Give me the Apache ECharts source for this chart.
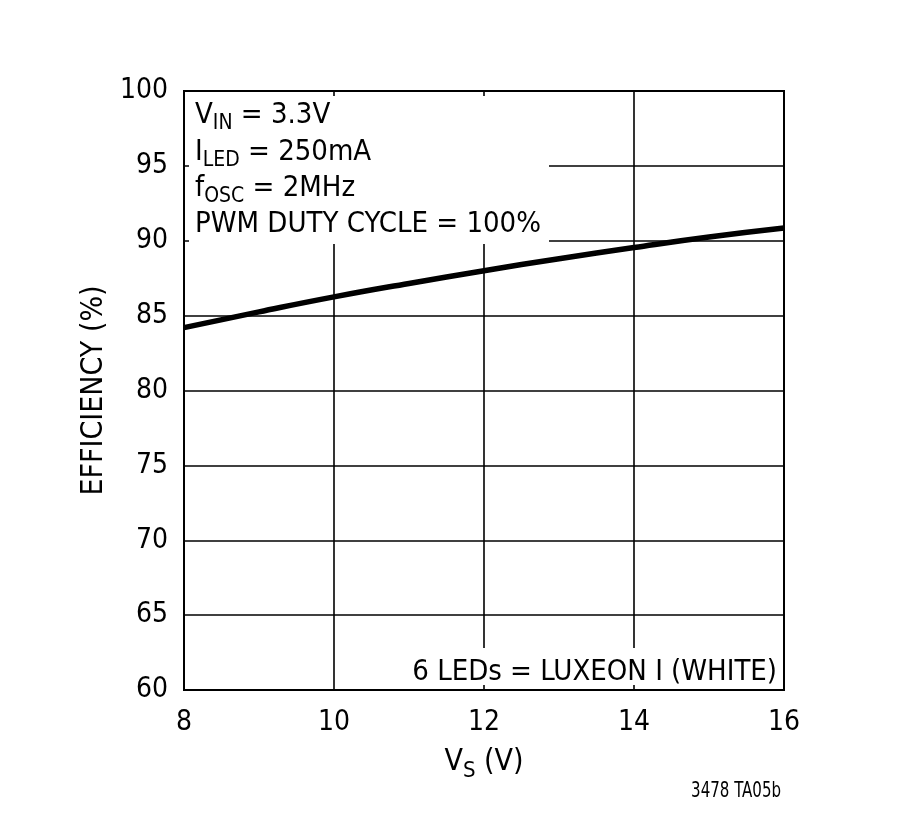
<!DOCTYPE html>
<html>
<head>
<meta charset="utf-8">
<script src="https://cdn.jsdelivr.net/npm/echarts@6/dist/echarts.min.js"></script>
<style>
html,body{margin:0;padding:0;background:#fff;}
#c{width:900px;height:831px;}
</style>
</head>
<body>
<div id="c"></div>
<script>
var vs = [8, 9, 10, 11, 12, 13, 14, 15, 16];
var efficiency = [84.2, 85.25, 86.25, 87.15, 88.0, 88.8, 89.55, 90.25, 90.85];
var xTicks = [8, 10, 12, 14, 16];
var yTicks = [60, 65, 70, 75, 80, 85, 90, 95, 100];
var notes = ['{m|V}{s|IN}{m| = 3.3V}', '{m|I}{s|LED}{m| = 250mA}', '{m|f}{s|OSC}{m| = 2MHz}', '{m|PWM DUTY CYCLE = 100%}'];
var ledNote = '6 LEDs = LUXEON I (WHITE)';
var footer = '3478 TA05b';

var FONT = '"DejaVu Sans Condensed", "Liberation Sans", sans-serif';
var rich = {
  m: {fontFamily: FONT, fontSize: 29, lineHeight: 36, color: '#000'},
  s: {fontFamily: FONT, fontSize: 21, lineHeight: 36, color: '#000', padding: [18, 0, 0, 0]}
};
var richX = {
  m: {fontFamily: FONT, fontSize: 30, lineHeight: 36, color: '#000'},
  s: {fontFamily: FONT, fontSize: 22, lineHeight: 36, color: '#000', padding: [18, 0, 0, 0]}
};
var noteTops = [97, 134, 170, 206.5];

var chart = echarts.init(document.getElementById('c'), null, {renderer: 'canvas'});
var graphics = [
  {type: 'rect', z: 1, shape: {x: 189, y: 96, width: 360, height: 148}, style: {fill: '#fff'}},
  {type: 'rect', z: 1, shape: {x: 410, y: 648, width: 370, height: 37}, style: {fill: '#fff'}}
];
notes.forEach(function (t, i) {
  graphics.push({type: 'text', z: 3, x: 195, y: noteTops[i],
    style: {text: t, rich: rich, verticalAlign: 'top', align: 'left'}});
});
graphics.push({type: 'text', z: 3, x: 777, y: 672,
  style: {text: ledNote, fontFamily: FONT, fontSize: 29, fill: '#000', align: 'right', verticalAlign: 'middle'}});
graphics.push({type: 'text', z: 3, x: 781, y: 791, scaleX: 0.76,
  style: {text: footer, fontFamily: FONT, fontSize: 22, fill: '#000', align: 'right', verticalAlign: 'middle'}});

chart.setOption({
  animation: false,
  backgroundColor: '#fff',
  grid: {left: 184, top: 91, width: 600, height: 599, show: true, borderColor: '#000', borderWidth: 2, backgroundColor: 'transparent'},
  xAxis: {
    type: 'value', min: xTicks[0], max: xTicks[xTicks.length - 1], interval: 2,
    name: '{m|V}{s|S}{m| (V)}', nameLocation: 'middle', nameGap: 54,
    nameTextStyle: {rich: richX},
    axisLine: {show: false}, axisTick: {show: false},
    axisLabel: {fontFamily: FONT, fontSize: 28, color: '#000', margin: 19},
    splitLine: {show: true, lineStyle: {color: '#000', width: 1.6}}
  },
  yAxis: {
    type: 'value', min: yTicks[0], max: yTicks[yTicks.length - 1], interval: 5,
    name: 'EFFICIENCY (%)', nameLocation: 'middle', nameGap: 69,
    nameTextStyle: {fontFamily: FONT, fontSize: 30, color: '#000'},
    axisLine: {show: false}, axisTick: {show: false},
    axisLabel: {fontFamily: FONT, fontSize: 28, color: '#000', margin: 16, padding: [4, 0, 0, 0]},
    splitLine: {show: true, lineStyle: {color: '#000', width: 1.6}}
  },
  series: [{
    type: 'line', z: 2, smooth: true, symbol: 'none',
    data: vs.map(function (v, i) { return [v, efficiency[i]]; }),
    lineStyle: {color: '#000', width: 5.5}
  }],
  graphic: graphics
});
</script>
</body>
</html>
